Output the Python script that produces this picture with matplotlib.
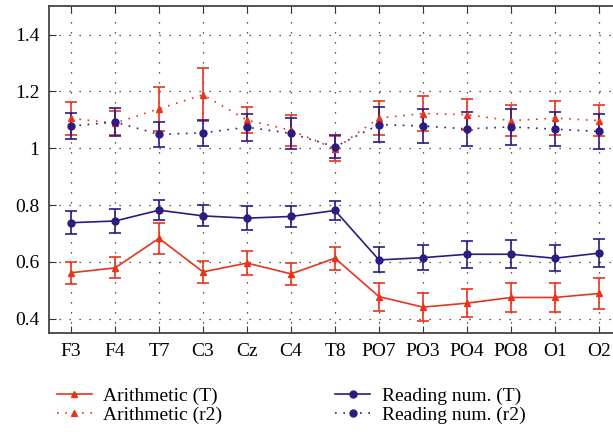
import matplotlib
matplotlib.use('Agg')
import matplotlib.pyplot as plt
import numpy as np

plt.rcParams['font.family'] = ['Liberation Serif', 'DejaVu Serif']

channels = ['F3', 'F4', 'T7', 'C3', 'Cz', 'C4', 'T8', 'PO7', 'PO3', 'PO4', 'PO8', 'O1', 'O2']

arith_T = [0.562, 0.579, 0.683, 0.565, 0.596, 0.558, 0.613, 0.478, 0.441, 0.455, 0.475, 0.475, 0.489]
arith_T_err = [0.038, 0.037, 0.054, 0.040, 0.042, 0.040, 0.040, 0.049, 0.048, 0.050, 0.050, 0.051, 0.055]
arith_r2 = [1.105, 1.088, 1.139, 1.188, 1.099, 1.063, 0.998, 1.106, 1.122, 1.118, 1.097, 1.106, 1.097]
arith_r2_err = [0.058, 0.042, 0.078, 0.093, 0.045, 0.054, 0.044, 0.060, 0.060, 0.055, 0.054, 0.059, 0.054]

read_T = [0.738, 0.744, 0.782, 0.762, 0.754, 0.760, 0.781, 0.607, 0.615, 0.627, 0.627, 0.613, 0.631]
read_T_err = [0.041, 0.041, 0.036, 0.037, 0.041, 0.038, 0.033, 0.044, 0.044, 0.048, 0.050, 0.045, 0.050]
read_r2 = [1.078, 1.092, 1.049, 1.054, 1.074, 1.052, 1.005, 1.083, 1.078, 1.068, 1.075, 1.067, 1.059]
read_r2_err = [0.047, 0.049, 0.044, 0.047, 0.047, 0.055, 0.041, 0.062, 0.060, 0.059, 0.063, 0.059, 0.060]

RED = '#E8341C'
NAVY = '#2E1A80'
DOT = (0, (1, 4))

fig = plt.figure(figsize=(6.13, 4.34), dpi=100)
ax = fig.add_axes([0.080, 0.2327, 0.933, 0.7533])

x = np.arange(len(channels))
common = dict(capsize=4, elinewidth=1.2, capthick=1.2, markersize=5, lw=1.2)

h1 = ax.errorbar(x, arith_T, yerr=arith_T_err, color=RED, marker='^', ls='-', **common)
h2 = ax.errorbar(x, arith_r2, yerr=arith_r2_err, color=RED, marker='^', ls=DOT, **common)
h3 = ax.errorbar(x, read_T, yerr=read_T_err, color=NAVY, marker='o', ls='-', **common)
h4 = ax.errorbar(x, read_r2, yerr=read_r2_err, color=NAVY, marker='o', ls=DOT, **common)

ax.set_xlim(-0.5, 12.5)
ax.set_ylim(0.35, 1.5)
ax.set_xticks(x)
ax.set_xticklabels(channels)
ax.set_yticks([0.4, 0.6, 0.8, 1.0, 1.2, 1.4])
ax.set_yticklabels(['0.4', '0.6', '0.8', '1', '1.2', '1.4'])
ax.tick_params(axis='both', direction='in', labelsize=14, length=5, top=True, color='#333333')
ax.tick_params(axis='x', pad=7)
ax.tick_params(axis='y', pad=7)
ax.grid(True, ls=(0, (1, 7)), color='#222222', lw=0.9)
ax.set_axisbelow(True)
for side in ['left', 'bottom', 'top']:
    ax.spines[side].set_color('#444444')
    ax.spines[side].set_linewidth(1.3)
ax.spines['right'].set_visible(False)

labels = ['Arithmetic (T)', 'Arithmetic (r2)', 'Reading num. (T)', 'Reading num. (r2)']
handles = [h1[0], h2[0], h3[0], h4[0]]
fig.legend(handles, labels, loc='upper left', bbox_to_anchor=(0.064, 0.149),
           ncol=2, frameon=False, fontsize=14, handlelength=1.8,
           columnspacing=5.8, labelspacing=0.1, handletextpad=0.6)

fig.savefig('out.png', dpi=100, facecolor='white')
